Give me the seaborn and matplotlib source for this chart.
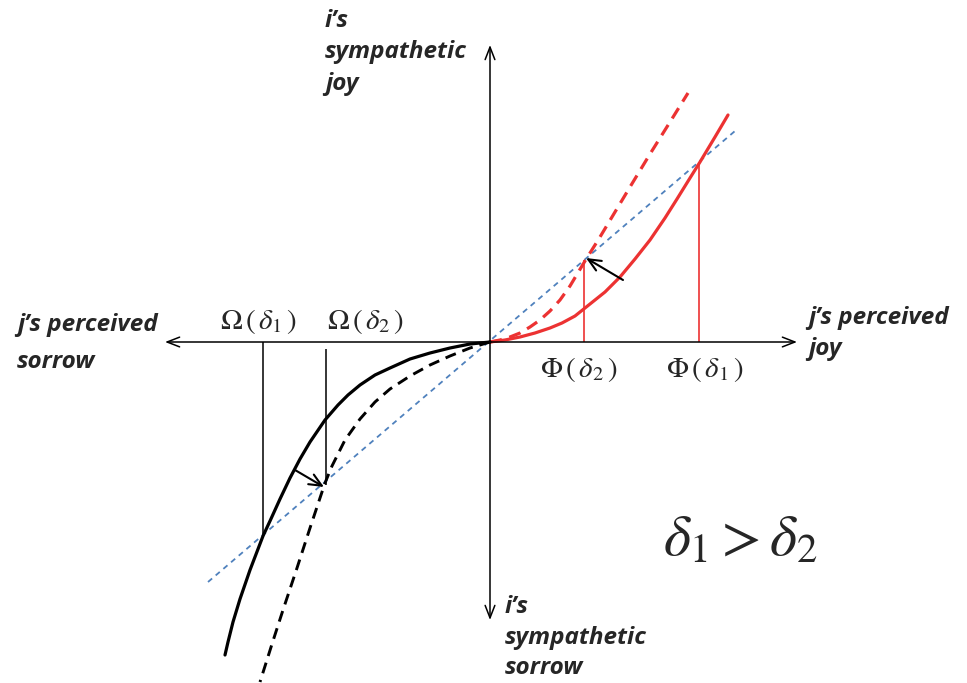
import numpy as np
import pandas as pd
import seaborn as sns
import matplotlib.pyplot as plt

# curves (origin at the axes crossing)
joy_d1_x = [0, 15, 30, 45, 60, 72, 85, 95, 105, 115, 130, 145, 160, 175, 187, 200, 210, 225, 238]
joy_d1_y = [0, 2, 5, 9, 14, 19, 26, 34, 42, 50, 65, 83, 102, 124, 143, 164, 180, 205, 227]
joy_d2_x = [0, 10, 20, 30, 40, 50, 60, 70, 80, 95, 110, 125, 140, 160, 180, 198]
joy_d2_y = [0, 2, 5, 9, 15, 22, 31, 42, 56, 81, 105, 130, 155, 188, 220, 249]

sor_d1_x = [0, -20, -40, -60, -80, -100, -115, -130, -142, -152, -165, -180, -190, -200,
            -210, -220, -227, -240, -250, -257, -262, -265]
sor_d1_y = [0, -2, -6, -11, -17, -26, -33, -43, -53, -63, -78, -100, -117, -136,
            -157, -179, -194, -228, -257, -280, -300, -313]
sor_d2_x = [0, -20, -40, -60, -80, -100, -115, -130, -145, -158, -165, -180, -193, -207, -218, -230]
sor_d2_y = [0, -6, -14, -23, -34, -47, -60, -77, -98, -124, -141, -186, -226, -268, -302, -340]

ref_x = [-282, 245]
ref_y = [-240, 211]

phi_x = [209, 94]      # Phi(delta1), Phi(delta2)
phi_y = [179, 82]
omega_x = [-227, -164]  # Omega(delta1), Omega(delta2)
omega_y = [-193, -143]

phi_labels = [r'$\Phi\,(\,\delta_1\,)$', r'$\Phi\,(\,\delta_2\,)$']
omega_labels = [r'$\Omega\,(\,\delta_1\,)$', r'$\Omega\,(\,\delta_2\,)$']

red = '#ec3232'
blue = '#4f81bd'

sns.set_style('white')
plt.rcParams['mathtext.fontset'] = 'stix'

fig = plt.figure(figsize=(9.67, 6.83), dpi=100)
ax = fig.add_axes([0, 0, 1, 1])

# axes with arrow heads
ax.annotate('', xy=(-325, 0), xytext=(307, 0),
            arrowprops=dict(arrowstyle='<->,head_length=0.9,head_width=0.35', lw=1.1, color='black',
                            shrinkA=0, shrinkB=0, mutation_scale=10))
ax.annotate('', xy=(0, 297), xytext=(0, -278),
            arrowprops=dict(arrowstyle='<->,head_length=0.9,head_width=0.35', lw=1.1, color='black',
                            shrinkA=0, shrinkB=0, mutation_scale=10))

sns.lineplot(x=ref_x, y=ref_y, ax=ax, color=blue, lw=1.3, linestyle=(0, (3, 2.6)),
             sort=False, estimator=None)
sns.lineplot(x=joy_d1_x, y=joy_d1_y, ax=ax, color=red, lw=2.3, sort=False, estimator=None)
sns.lineplot(x=joy_d2_x, y=joy_d2_y, ax=ax, color=red, lw=2.3, linestyle=(0, (3.8, 2.4)),
             sort=False, estimator=None)
sns.lineplot(x=sor_d1_x, y=sor_d1_y, ax=ax, color='black', lw=2.3, sort=False, estimator=None)
sns.lineplot(x=sor_d2_x, y=sor_d2_y, ax=ax, color='black', lw=2.1, linestyle=(0, (3.8, 2.4)),
             sort=False, estimator=None)

# drop lines
ax.vlines(phi_x, 0, phi_y, color=red, lw=1.2)
ax.vlines(omega_x[0], 0, omega_y[0], color='black', lw=1.1)
ax.vlines(omega_x[1], -7, omega_y[1], color='black', lw=1.1)

# shift arrows
ax.annotate('', xy=(phi_x[1] + 2, phi_y[1] + 2), xytext=(133, 62),
            arrowprops=dict(arrowstyle='->,head_length=0.9,head_width=0.4', lw=1.5, color='black',
                            shrinkA=0, shrinkB=0, mutation_scale=10))
ax.annotate('', xy=(omega_x[1] - 2, omega_y[1] - 2), xytext=(-195, -128),
            arrowprops=dict(arrowstyle='->,head_length=0.9,head_width=0.4', lw=1.5, color='black',
                            shrinkA=0, shrinkB=0, mutation_scale=10))

for x, lab in zip([215, 89], phi_labels):
    ax.text(x, -28, lab, fontsize=21, ha='center', va='center')
for x, lab in zip([-231, -124], omega_labels):
    ax.text(x, 20, lab, fontsize=21, ha='center', va='center')

lab_kw = dict(fontsize=17.5, fontweight='bold', fontstyle='italic', family=['Open Sans', 'DejaVu Sans'])
ax.text(-473, 11, 'j’s perceived', ha='left', va='baseline', **lab_kw)
ax.text(-473, -26, 'sorrow', ha='left', va='baseline', **lab_kw)
ax.text(318, 18, 'j’s perceived', ha='left', va='baseline', **lab_kw)
ax.text(318, -13, 'joy', ha='left', va='baseline', **lab_kw)
ax.text(-165, 315, 'i’s', ha='left', va='baseline', **lab_kw)
ax.text(-165, 284, 'sympathetic', ha='left', va='baseline', **lab_kw)
ax.text(-165, 252, 'joy', ha='left', va='baseline', **lab_kw)
ax.text(15, -271, 'i’s', ha='left', va='baseline', **lab_kw)
ax.text(15, -302, 'sympathetic', ha='left', va='baseline', **lab_kw)
ax.text(15, -332, 'sorrow', ha='left', va='baseline', **lab_kw)

ax.text(250, -197, r'$\delta_1 > \delta_2$', fontsize=42, ha='center', va='center')

ax.set_xlim(-490, 477)
ax.set_ylim(-341, 342)
ax.axis('off')

plt.savefig('out.png', dpi=100)
